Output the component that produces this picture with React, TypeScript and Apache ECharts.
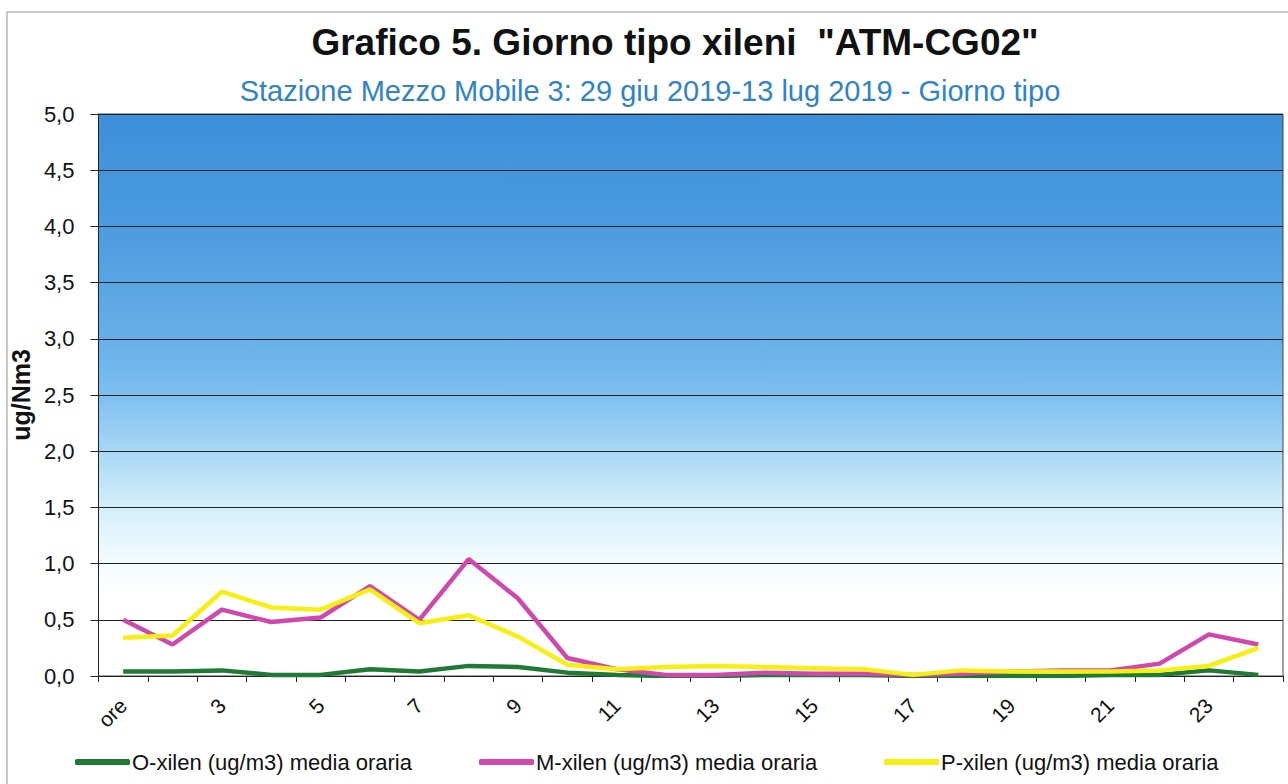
import React, { useEffect, useRef } from "react";
import * as echarts from "echarts";

// Hour-of-day categories ("ore" marks the first hour)
const hours = ["ore", "2", "3", "4", "5", "6", "7", "8", "9", "10", "11", "12", "13", "14", "15", "16", "17", "18", "19", "20", "21", "22", "23", "24"];

// Typical-day hourly means, ug/Nm3
const oXilen = [0.04, 0.04, 0.05, 0.01, 0.01, 0.06, 0.04, 0.09, 0.08, 0.03, 0.01, 0.0, 0.0, 0.01, 0.01, 0.01, 0.0, 0.0, 0.0, 0.0, 0.01, 0.01, 0.05, 0.01];
const mXilen = [0.5, 0.28, 0.59, 0.48, 0.52, 0.8, 0.5, 1.04, 0.69, 0.16, 0.06, 0.01, 0.01, 0.03, 0.02, 0.02, 0.01, 0.02, 0.04, 0.05, 0.05, 0.11, 0.37, 0.28];
const pXilen = [0.34, 0.36, 0.75, 0.61, 0.59, 0.77, 0.47, 0.54, 0.35, 0.1, 0.06, 0.08, 0.09, 0.08, 0.07, 0.06, 0.01, 0.05, 0.04, 0.04, 0.04, 0.05, 0.09, 0.25];

const seriesNames = [
  "O-xilen (ug/m3) media oraria",
  "M-xilen (ug/m3) media oraria",
  "P-xilen (ug/m3) media oraria",
];
const seriesColors = ["#1f7a35", "#d048ad", "#f7ef12"];

const FONT = "'Liberation Sans', Arial, sans-serif";

export default function App() {
  const ref = useRef<HTMLDivElement>(null);

  useEffect(() => {
    if (!ref.current) return;
    const chart = echarts.init(ref.current, null, { renderer: "svg" });

    const legendLefts = [75, 479, 884];

    chart.setOption({
      animation: false,
      backgroundColor: "#ffffff",
      textStyle: { fontFamily: FONT },
      title: [
        {
          text: 'Grafico 5. Giorno tipo xileni  "ATM-CG02"',
          left: 670,
          textAlign: "center",
          top: 19,
          textStyle: { fontFamily: FONT, fontSize: 37, fontWeight: "bold", color: "#111" },
        },
        {
          text: "Stazione Mezzo Mobile 3: 29 giu 2019-13 lug 2019 - Giorno tipo",
          left: 645,
          textAlign: "center",
          top: 71,
          textStyle: { fontFamily: FONT, fontSize: 29, fontWeight: "normal", color: "#2f83c6" },
        },
      ],
      graphic: [
        {
          type: "rect",
          shape: { x: 7, y: 12, width: 1300, height: 800 },
          style: { fill: "none", stroke: "#b8b8b8", lineWidth: 1.5 },
          silent: true,
          z: -1,
        },
      ],
      legend: seriesNames.map((name, i) => ({
        data: [name],
        left: legendLefts[i],
        top: 751,
        padding: 0,
        itemWidth: 55,
        itemHeight: 6,
        itemGap: 0,
        icon: "roundRect",
        textStyle: { fontFamily: FONT, fontSize: 22, color: "#111", padding: [0, 0, 0, -3] },
      })),
      grid: {
        left: 97,
        right: 5,
        top: 114,
        bottom: 108,
        show: true,
        borderColor: "#444",
        borderWidth: 1,
        backgroundColor: new echarts.graphic.LinearGradient(0, 0, 0, 1, [
          { offset: 0, color: "#3c8fd8" },
          { offset: 0.2, color: "#4c9be0" },
          { offset: 0.4, color: "#66afe8" },
          { offset: 0.5, color: "#7dbff0" },
          { offset: 0.6, color: "#a8d7f5" },
          { offset: 0.7, color: "#d4effa" },
          { offset: 0.8, color: "#f4fcfe" },
          { offset: 0.86, color: "#ffffff" },
          { offset: 1, color: "#ffffff" },
        ]),
      },
      xAxis: {
        type: "category",
        data: hours,
        boundaryGap: true,
        axisLine: { show: true, lineStyle: { color: "#222", width: 1 } },
        axisTick: { show: true, interval: 0, length: 6, lineStyle: { color: "#222" } },
        axisLabel: {
          interval: 1,
          rotate: 45,
          fontFamily: FONT,
          fontSize: 21,
          color: "#111",
          margin: 26,
        },
        splitLine: { show: false },
      },
      yAxis: {
        type: "value",
        min: 0,
        max: 5,
        interval: 0.5,
        name: "ug/Nm3",
        nameLocation: "middle",
        nameRotate: 90,
        nameGap: 52,
        nameTextStyle: { fontFamily: FONT, fontSize: 25, fontWeight: "bold", color: "#111" },
        axisLine: { show: true, lineStyle: { color: "#222", width: 1 } },
        axisTick: { show: true, inside: false, length: 8, lineStyle: { color: "#222" } },
        axisLabel: {
          fontFamily: FONT,
          fontSize: 22,
          color: "#111",
          margin: 24,
          formatter: (v: number) => v.toFixed(1).replace(".", ","),
        },
        splitLine: { show: true, lineStyle: { color: "#222", width: 1.2 } },
      },
      series: [oXilen, mXilen, pXilen].map((data, i) => ({
        name: seriesNames[i],
        type: "line",
        data,
        symbol: "none",
        color: seriesColors[i],
        lineStyle: { width: 4.5, color: seriesColors[i] },
      })),
    });

    return () => chart.dispose();
  }, []);

  return (
    <div
      ref={ref}
      style={{ position: "fixed", left: 0, top: 0, width: 1288, height: 784 }}
    />
  );
}
